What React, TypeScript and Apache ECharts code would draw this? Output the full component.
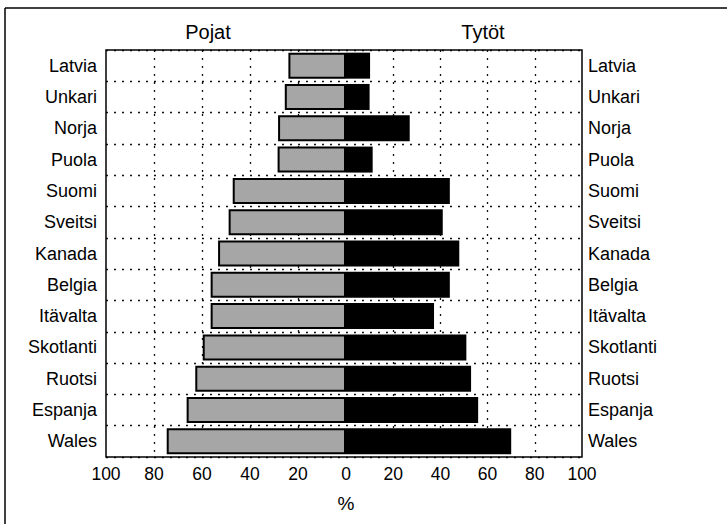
import React, { useEffect, useRef } from "react";
import * as echarts from "echarts";

const countries = ["Latvia", "Unkari", "Norja", "Puola", "Suomi", "Sveitsi", "Kanada", "Belgia", "Itävalta", "Skotlanti", "Ruotsi", "Espanja", "Wales"];
const boys = [24, 25.5, 28.3, 28.5, 47.2, 48.9, 53.3, 56.4, 56.4, 59.7, 62.8, 66.4, 74.7];
const girls = [10.2, 10, 27, 11.3, 44, 41, 48, 44, 37.3, 51, 53, 56, 70];
const groupTitles = ["Pojat", "Tytöt"];
const axisUnit = "%";

const FONT = "Liberation Sans, Arial, sans-serif";
const dotted = { color: "#111", width: 1.3, type: [2, 6] as number[] };
const lbl = { color: "#000", fontSize: 18, fontFamily: FONT, fontWeight: "normal" as const };

export default function App() {
  const ref = useRef<HTMLDivElement>(null);
  useEffect(() => {
    if (!ref.current) return;
    const chart = echarts.init(ref.current, null, { renderer: "svg" });
    const L = 106, M = 346, R = 582, T = 50, B = 457;
    const option: any = {
      animation: false,
      backgroundColor: "#fff",
      textStyle: { fontFamily: FONT, color: "#000" },
      grid: [
        { left: L, width: M - L, top: T, height: B - T },
        { left: M, width: R - M, top: T, height: B - T },
      ],
      xAxis: [
        {
          gridIndex: 0, type: "value", min: 0, max: 100, interval: 20, inverse: true,
          axisLine: { show: false }, axisTick: { show: false },
          axisLabel: { ...lbl, fontSize: 17.5, margin: 8 },
          splitLine: { show: true, showMinLine: false, showMaxLine: false, lineStyle: dotted },
        },
        {
          gridIndex: 1, type: "value", min: 0, max: 100, interval: 20,
          axisLine: { show: false }, axisTick: { show: false },
          axisLabel: { ...lbl, fontSize: 17.5, margin: 8, formatter: (v: number) => (v === 0 ? "" : String(v)) },
          splitLine: { show: true, showMinLine: false, showMaxLine: false, lineStyle: dotted },
        },
      ],
      yAxis: [
        {
          gridIndex: 0, type: "category", data: countries, inverse: true, position: "left",
          axisLine: { show: false }, axisTick: { show: false },
          axisLabel: { ...lbl, margin: 9 },
          splitLine: { show: true, interval: 0, lineStyle: dotted },
        },
        {
          gridIndex: 1, type: "category", data: countries, inverse: true, position: "right",
          axisLine: { show: false }, axisTick: { show: false },
          axisLabel: { ...lbl, margin: 6 },
          splitLine: { show: true, interval: 0, lineStyle: dotted },
        },
      ],
      series: [
        {
          name: groupTitles[0], type: "bar", xAxisIndex: 0, yAxisIndex: 0, data: boys, barWidth: 26,
          itemStyle: { color: "#a6a6a6", borderColor: "#000", borderWidth: 2 },
        },
        {
          name: groupTitles[1], type: "bar", xAxisIndex: 1, yAxisIndex: 1, data: girls, barWidth: 26,
          itemStyle: { color: "#000" },
        },
      ],
      graphic: [
        { type: "rect", shape: { x: L, y: T, width: R - L, height: B - T }, style: { fill: "none", stroke: "#000", lineWidth: 1.5 }, z: 100 },
        { type: "line", shape: { x1: 5, y1: 8, x2: 727, y2: 8 }, style: { stroke: "#000", lineWidth: 1.5 } },
        { type: "line", shape: { x1: 5, y1: 8, x2: 5, y2: 524 }, style: { stroke: "#000", lineWidth: 1.5 } },
        { type: "text", x: 208, y: 32, style: { text: groupTitles[0], fontSize: 20, fontFamily: FONT, fill: "#000", align: "center", verticalAlign: "middle" } },
        { type: "text", x: 483, y: 32, style: { text: groupTitles[1], fontSize: 20, fontFamily: FONT, fill: "#000", align: "center", verticalAlign: "middle" } },
        { type: "text", x: M, y: 503, style: { text: axisUnit, fontSize: 19, fontFamily: FONT, fill: "#000", align: "center", verticalAlign: "middle" } },
      ],
    };
    chart.setOption(option);
    return () => chart.dispose();
  }, []);
  return <div ref={ref} style={{ position: "fixed", left: 0, top: 0, width: 727, height: 524 }} />;
}
